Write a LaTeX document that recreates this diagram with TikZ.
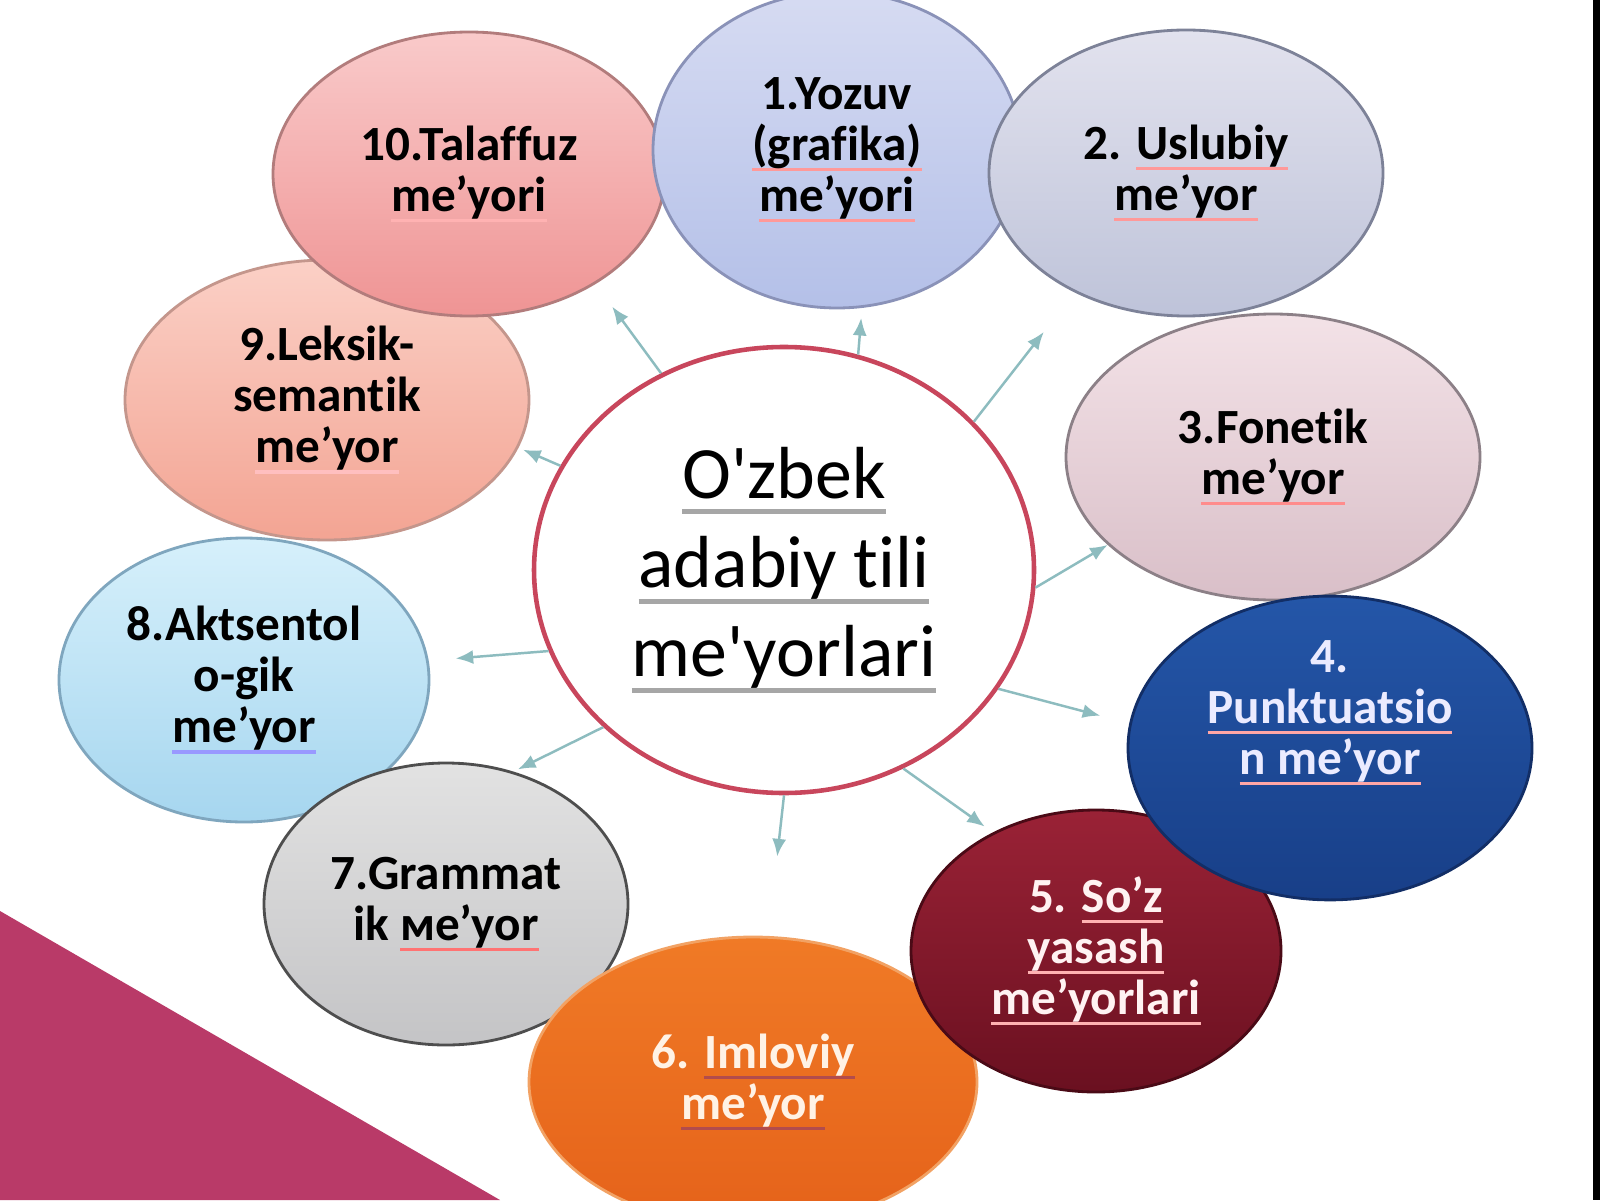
\documentclass[tikz,border=0pt]{standalone}
\usepackage{fontspec}
\setmainfont[Ligatures={TeX,NoCommon}]{Carlito}
\usetikzlibrary{shapes.geometric,arrows.meta}

\definecolor{wedge}{HTML}{B93A68}
\definecolor{ring}{HTML}{C8465C}
\definecolor{arrowc}{HTML}{8DBCBF}
\definecolor{bAtop}{HTML}{D6DBF2}\definecolor{bAbot}{HTML}{B4C0E8}\definecolor{bAln}{HTML}{8A92B8}
\definecolor{bBtop}{HTML}{E2E2EE}\definecolor{bBbot}{HTML}{BEC3D9}\definecolor{bBln}{HTML}{7D8298}
\definecolor{bCtop}{HTML}{F3E2E7}\definecolor{bCbot}{HTML}{D9BFC8}\definecolor{bCln}{HTML}{8C8087}
\definecolor{bDtop}{HTML}{2456A8}\definecolor{bDbot}{HTML}{183F88}\definecolor{bDln}{HTML}{122E66}
\definecolor{bEtop}{HTML}{9A2236}\definecolor{bEbot}{HTML}{6A1020}\definecolor{bEln}{HTML}{4A0A16}
\definecolor{bFtop}{HTML}{F07A26}\definecolor{bFbot}{HTML}{E5621A}\definecolor{bFln}{HTML}{F2A264}
\definecolor{bGtop}{HTML}{E2E2E2}\definecolor{bGbot}{HTML}{C4C4C6}\definecolor{bGln}{HTML}{4E4E4E}
\definecolor{bHtop}{HTML}{D6F0FB}\definecolor{bHbot}{HTML}{A6D6EF}\definecolor{bHln}{HTML}{7FA6BE}
\definecolor{bItop}{HTML}{FBD0C6}\definecolor{bIbot}{HTML}{F3A493}\definecolor{bIln}{HTML}{C4968C}
\definecolor{bJtop}{HTML}{F9CACA}\definecolor{bJbot}{HTML}{EF9494}\definecolor{bJln}{HTML}{B27C7C}

% spell-check underline under a word
\newcommand{\uln}[2][red!55]{\setbox0\hbox{#2}\leavevmode\rlap{\color{#1}\rule[-0.22em]{\wd0}{0.07em}}\box0}

\begin{document}
\begin{tikzpicture}[
  bubble/.style={ellipse, draw=#1, line width=0.8pt, inner sep=0pt, align=center,
    font=\fontsize{14}{14.5}\selectfont\bfseries},
  conn/.style={draw=arrowc, line width=0.7pt, -{Latex[length=5pt,width=4pt]}}
]
\useasboundingbox (0,0) rectangle (16,12);
\fill[white] (0,0) rectangle (16,12);
\fill[wedge] (0,0) -- (0,2.89) -- (5.0,0) -- cycle;
\fill[black] (15.93,0) rectangle (16,12);

% outer bubbles
\node[bubble=bIln, top color=bItop, bottom color=bIbot, minimum width=4.04cm, minimum height=2.80cm] (b9) at (3.27,8.00)
  {9.Leksik-\\semantik\\\uln[red!25]{me'yor}};
\node[bubble=bJln, top color=bJtop, bottom color=bJbot, minimum width=3.92cm, minimum height=2.84cm] (b10) at (4.69,10.26)
  {10.Talaffuz\\\uln[red!30]{me'yori}};
\node[bubble=bHln, top color=bHtop, bottom color=bHbot, minimum width=3.70cm, minimum height=2.84cm] (b8) at (2.44,5.20)
  {8.Aktsentol\\o-gik\\\uln[blue!40]{me'yor}};
\node[bubble=bGln, top color=bGtop, bottom color=bGbot, minimum width=3.64cm, minimum height=2.82cm] (b7) at (4.46,2.96)
  {7.Grammat\\ik \uln{ме'yor}};
\node[bubble=bFln, top color=bFtop, bottom color=bFbot, minimum width=4.48cm, minimum height=2.90cm, text={orange!10}] (b6) at (7.53,1.18)
  {6. \uln[red!40!gray]{Imloviy}\\\uln[red!40!gray]{me'yor}};
\node[bubble=bAln, top color=bAtop, bottom color=bAbot, minimum width=3.68cm, minimum height=3.16cm] (b1) at (8.37,10.50)
  {1.Yozuv\\\uln[red!40]{(grafika)}\\\uln[red!40]{me'yori}};
\node[bubble=bBln, top color=bBtop, bottom color=bBbot, minimum width=3.94cm, minimum height=2.86cm] (b2) at (11.86,10.27)
  {2. \uln[red!40]{Uslubiy}\\\uln[red!40]{me'yor}};
\node[bubble=bCln, top color=bCtop, bottom color=bCbot, minimum width=4.14cm, minimum height=2.86cm] (b3) at (12.73,7.43)
  {3.Fonetik\\\uln[red!45]{me'yor}};
\node[bubble=bEln, top color=bEtop, bottom color=bEbot, minimum width=3.70cm, minimum height=2.82cm, text={red!5}] (b5) at (10.96,2.49)
  {5. \uln[red!30]{So'z}\\\uln[red!30]{yasash}\\\uln[red!30]{me'yorlari}};
\node[bubble=bDln, top color=bDtop, bottom color=bDbot, minimum width=4.04cm, minimum height=2.76cm, text={blue!8}] (b4) at (13.30,4.52)
  {4.\\\uln[red!35]{Punktuatsio}\\\uln[red!35]{n me'yor}\\[3mm]};

% centre circle
\node[ellipse, draw=ring, line width=1.3pt, fill=white, inner sep=0pt, minimum width=5.0cm, minimum height=4.46cm,
  align=center, font=\fontsize{21}{22}\selectfont] (c) at (7.84,6.30)
  {\uln[gray!70]{O\textquotesingle zbek}\\[1.2mm]\uln[gray!70]{adabiy tili}\\[1.2mm]\uln[gray!70]{me\textquotesingle yorlari}};

% arrows from the centre
\draw[conn, shorten >=2.8mm] (c.122) -- (b10.-41);
\draw[conn, shorten >=1mm] (c.71) -- (b1.-81);
\draw[conn, shorten >=5mm] (c.38) -- (b2.227);
\draw[conn] (c.-4) -- (b3.208);
\draw[conn, shorten >=3mm] (c.-29) -- (b4.173);
\draw[conn, shorten >=1mm] (c.-59) -- (b5.131);
\draw[conn, shorten >=8mm] (c.-90) -- (b6.84);
\draw[conn, shorten >=0.5mm] (c.221) -- (b7.63);
\draw[conn, shorten >=2.7mm] (c.199) -- (b8.6);
\draw[conn, shorten >=0.5mm] (c.155) -- (b9.-14);

\end{tikzpicture}
\end{document}
